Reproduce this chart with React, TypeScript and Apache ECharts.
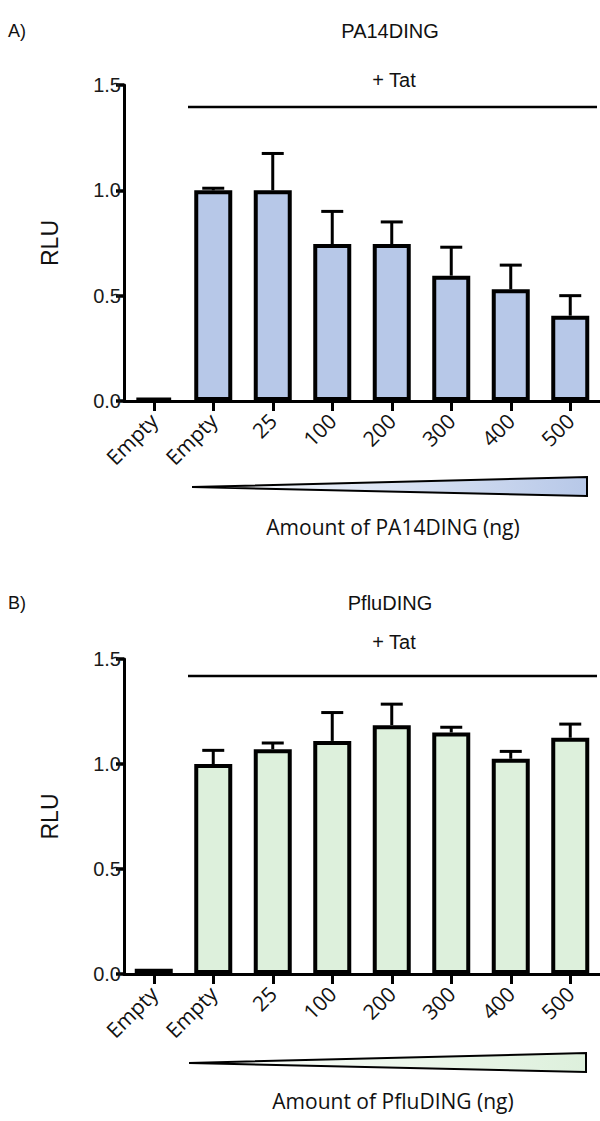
import React, { useEffect, useRef } from "react";
import * as echarts from "echarts";

const categories = ["Empty", "Empty", "25", "100", "200", "300", "400", "500"];
const pa14Mean = [0.015, 1.0, 1.0, 0.745, 0.745, 0.595, 0.53, 0.405];
const pa14Err = [0, 0.01, 0.175, 0.155, 0.105, 0.135, 0.115, 0.095];
const pfluMean = [0.025, 1.0, 1.07, 1.11, 1.185, 1.15, 1.025, 1.125];
const pfluErr = [0, 0.065, 0.03, 0.135, 0.1, 0.025, 0.035, 0.065];
const panelTitles = ["PA14DING", "PfluDING"];
const panelLetters = ["A)", "B)"];
const treatmentLabel = "+ Tat";
const amountLabels = ["Amount of PA14DING (ng)", "Amount of PfluDING (ng)"];
const yAxisName = "RLU";

const panels = [
  {
    mean: pa14Mean,
    err: pa14Err,
    top: 85,
    height: 316,
    color: "#b7c8e8",
    titleY: 31,
    tatY: 80,
    lineY: 107,
    tri: { x0: 192, y0: 487, x1: 587, yTop: 477, yBot: 496 },
    amountY: 527,
  },
  {
    mean: pfluMean,
    err: pfluErr,
    top: 659,
    height: 315,
    color: "#ddf0dc",
    titleY: 603,
    tatY: 642,
    lineY: 676,
    tri: { x0: 189, y0: 1063, x1: 586, yTop: 1053, yBot: 1072 },
    amountY: 1101,
  },
];

const GRID_LEFT = 124;
const GRID_WIDTH = 476;

export default function App() {
  const ref = useRef<HTMLDivElement>(null);
  useEffect(() => {
    if (!ref.current) return;
    const chart = echarts.init(ref.current, null, { renderer: "svg" });
    const grids: any[] = [];
    const xAxes: any[] = [];
    const yAxes: any[] = [];
    const series: any[] = [];
    const graphic: any[] = [];
    panels.forEach((p, i) => {
      grids.push({ left: GRID_LEFT, top: p.top, width: GRID_WIDTH, height: p.height });
      xAxes.push({
        type: "category",
        gridIndex: i,
        data: categories,
        boundaryGap: true,
        axisLine: { show: true, lineStyle: { color: "#000", width: 3 } },
        axisTick: { show: true, alignWithLabel: true, length: 10, lineStyle: { color: "#000", width: 3 } },
        axisLabel: {
          rotate: 45,
          margin: 16,
          fontSize: 21,
          fontFamily: "Open Sans",
          color: "#111",
          interval: 0,
        },
        splitLine: { show: false },
      });
      yAxes.push({
        type: "value",
        gridIndex: i,
        min: 0,
        max: 1.5,
        interval: 0.5,
        axisLine: { show: true, lineStyle: { color: "#000", width: 3 } },
        axisTick: { show: true, length: 8, lineStyle: { color: "#000", width: 3.5 } },
        axisLabel: {
          formatter: (v: number) => v.toFixed(1),
          fontSize: 20,
          fontFamily: "Liberation Sans",
          color: "#1a1a1a",
          margin: 3,
        },
        splitLine: { show: false },
      });
      series.push({
        type: "bar",
        xAxisIndex: i,
        yAxisIndex: i,
        data: p.mean,
        barWidth: 38,
        itemStyle: { color: p.color, borderColor: "#000", borderWidth: 4 },
        z: 2,
      });
      series.push({
        type: "custom",
        xAxisIndex: i,
        yAxisIndex: i,
        z: 3,
        encode: { x: 0, y: 1 },
        data: p.mean.map((m, k) => [k, m, p.err[k]]),
        renderItem: (params: any, api: any) => {
          const x = api.value(0);
          const m = api.value(1);
          const e = api.value(2);
          if (!e) return { type: "group", children: [] };
          const base = api.coord([x, m]);
          const top = api.coord([x, m + e]);
          const style = { stroke: "#000", lineWidth: 3 };
          return {
            type: "group",
            children: [
              { type: "line", shape: { x1: base[0], y1: base[1], x2: top[0], y2: top[1] }, style },
              { type: "line", shape: { x1: top[0] - 11, y1: top[1], x2: top[0] + 11, y2: top[1] }, style },
            ],
          };
        },
      });
      const textStyle = (text: string, size: number, family: string) => ({
        text,
        fontSize: size,
        fontFamily: family,
        fill: "#111",
        align: "center",
        verticalAlign: "middle",
        textAlign: "center",
        textVerticalAlign: "middle",
      });
      graphic.push({ type: "text", x: 17, y: p.titleY, style: textStyle(panelLetters[i], 18, "Liberation Sans") });
      graphic.push({ type: "text", x: 390, y: p.titleY, style: textStyle(panelTitles[i], 20, "Liberation Sans") });
      graphic.push({ type: "text", x: 394, y: p.tatY, style: textStyle(treatmentLabel, 20, "Liberation Sans") });
      graphic.push({
        type: "line",
        shape: { x1: 188, y1: p.lineY, x2: 597, y2: p.lineY },
        style: { stroke: "#000", lineWidth: 2.5 },
      });
      graphic.push({
        type: "text",
        x: 50,
        y: p.top + p.height / 2,
        rotation: Math.PI / 2,
        style: textStyle(yAxisName, 23, "Liberation Sans"),
      });
      graphic.push({
        type: "polygon",
        shape: {
          points: [
            [p.tri.x0, p.tri.y0],
            [p.tri.x1, p.tri.yTop],
            [p.tri.x1, p.tri.yBot],
          ],
        },
        style: {
          fill: new echarts.graphic.LinearGradient(0, 0, 1, 0, [
            { offset: 0, color: "#ffffff" },
            { offset: 1, color: p.color },
          ]),
          stroke: "#000",
          lineWidth: 2,
        },
      });
      graphic.push({ type: "text", x: 393, y: p.amountY, style: textStyle(amountLabels[i], 21, "Open Sans") });
    });
    chart.setOption({
      animation: false,
      backgroundColor: "#fff",
      grid: grids,
      xAxis: xAxes,
      yAxis: yAxes,
      series,
      graphic,
    });
    return () => chart.dispose();
  }, []);
  return <div ref={ref} style={{ position: "absolute", left: 0, top: 0, width: 600, height: 1121 }} />;
}
